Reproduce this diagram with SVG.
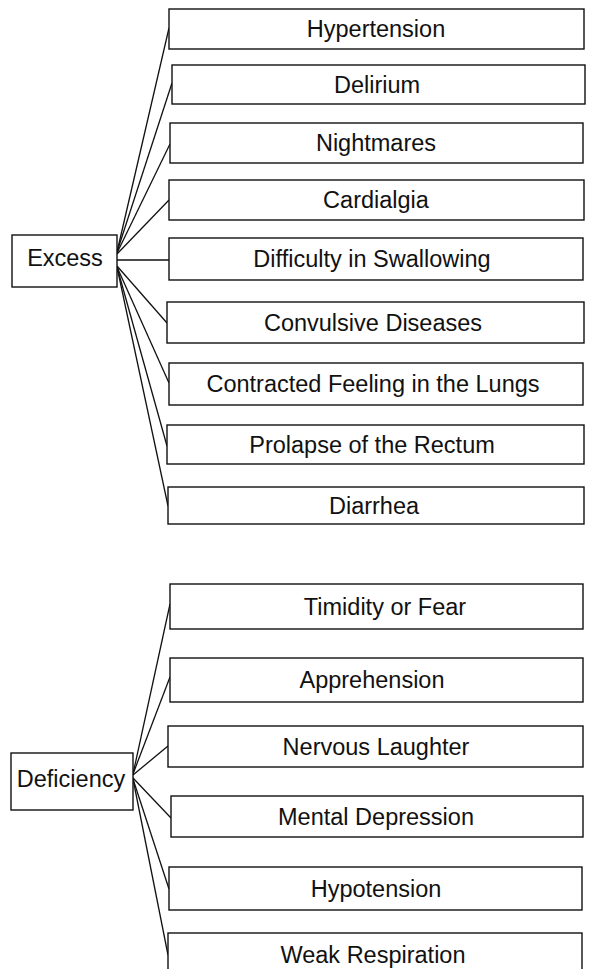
<svg xmlns="http://www.w3.org/2000/svg" width="590" height="969" viewBox="0 0 590 969">
  <style>
    .box { fill: #ffffff; stroke: #111111; stroke-width: 1.4; }
    .lbl { font-family: "Liberation Sans", Arial, sans-serif; font-size: 23.5px; fill: #111111; text-anchor: middle; }
    .edge { stroke: #111111; stroke-width: 1.3; fill: none; }
  </style>
  <rect width="590" height="969" fill="#ffffff"/>

  <!-- connectors -->
  <g id="connectors" class="edge">
    <line x1="117" y1="252" x2="169" y2="28"/>
    <line x1="117" y1="252" x2="172" y2="83"/>
    <line x1="117" y1="253" x2="170" y2="144"/>
    <line x1="117" y1="254" x2="169" y2="200"/>
    <line x1="117" y1="260" x2="169" y2="260"/>
    <line x1="117" y1="266" x2="167" y2="323"/>
    <line x1="117" y1="267" x2="169" y2="383"/>
    <line x1="117" y1="267" x2="167" y2="446"/>
    <line x1="117" y1="267" x2="168" y2="506"/>

    <line x1="133" y1="774" x2="170" y2="604"/>
    <line x1="133" y1="774" x2="170" y2="677"/>
    <line x1="133" y1="775" x2="168" y2="746"/>
    <line x1="133" y1="778" x2="171" y2="818"/>
    <line x1="133" y1="779" x2="169" y2="889"/>
    <line x1="133" y1="779" x2="168" y2="955"/>
  </g>

  <!-- roots -->
  <g id="excess">
    <rect class="box" x="12" y="235" width="105" height="52"/>
    <text class="lbl" x="65" y="266">Excess</text>
  </g>
  <g id="deficiency">
    <rect class="box" x="11" y="753" width="122" height="57"/>
    <text class="lbl" x="71" y="787">Deficiency</text>
  </g>

  <!-- excess symptoms -->
  <g id="hypertension">
    <rect class="box" x="169" y="9" width="415" height="40"/>
    <text class="lbl" x="376" y="37">Hypertension</text>
  </g>
  <g id="delirium">
    <rect class="box" x="172" y="65" width="413" height="39"/>
    <text class="lbl" x="377" y="93">Delirium</text>
  </g>
  <g id="nightmares">
    <rect class="box" x="170" y="123" width="413" height="40"/>
    <text class="lbl" x="376" y="151">Nightmares</text>
  </g>
  <g id="cardialgia">
    <rect class="box" x="169" y="180" width="415" height="40"/>
    <text class="lbl" x="376" y="208">Cardialgia</text>
  </g>
  <g id="swallowing">
    <rect class="box" x="169" y="238" width="414" height="42"/>
    <text class="lbl" x="372" y="267">Difficulty in Swallowing</text>
  </g>
  <g id="convulsive">
    <rect class="box" x="167" y="302" width="417" height="41"/>
    <text class="lbl" x="373" y="331">Convulsive Diseases</text>
  </g>
  <g id="contracted">
    <rect class="box" x="169" y="363" width="414" height="42"/>
    <text class="lbl" x="373" y="392">Contracted Feeling in the Lungs</text>
  </g>
  <g id="prolapse">
    <rect class="box" x="167" y="425" width="417" height="39"/>
    <text class="lbl" x="372" y="453">Prolapse of the Rectum</text>
  </g>
  <g id="diarrhea">
    <rect class="box" x="168" y="487" width="416" height="37"/>
    <text class="lbl" x="374" y="514">Diarrhea</text>
  </g>

  <!-- deficiency symptoms -->
  <g id="timidity">
    <rect class="box" x="170" y="584" width="413" height="45"/>
    <text class="lbl" x="385" y="615">Timidity or Fear</text>
  </g>
  <g id="apprehension">
    <rect class="box" x="170" y="658" width="413" height="44"/>
    <text class="lbl" x="372" y="688">Apprehension</text>
  </g>
  <g id="laughter">
    <rect class="box" x="168" y="726" width="415" height="41"/>
    <text class="lbl" x="376" y="755">Nervous Laughter</text>
  </g>
  <g id="depression">
    <rect class="box" x="171" y="796" width="412" height="41"/>
    <text class="lbl" x="376" y="825">Mental Depression</text>
  </g>
  <g id="hypotension">
    <rect class="box" x="169" y="867" width="413" height="43"/>
    <text class="lbl" x="376" y="897">Hypotension</text>
  </g>
  <g id="respiration">
    <rect class="box" x="168" y="933" width="414" height="60"/>
    <text class="lbl" x="373" y="963">Weak Respiration</text>
  </g>
</svg>
